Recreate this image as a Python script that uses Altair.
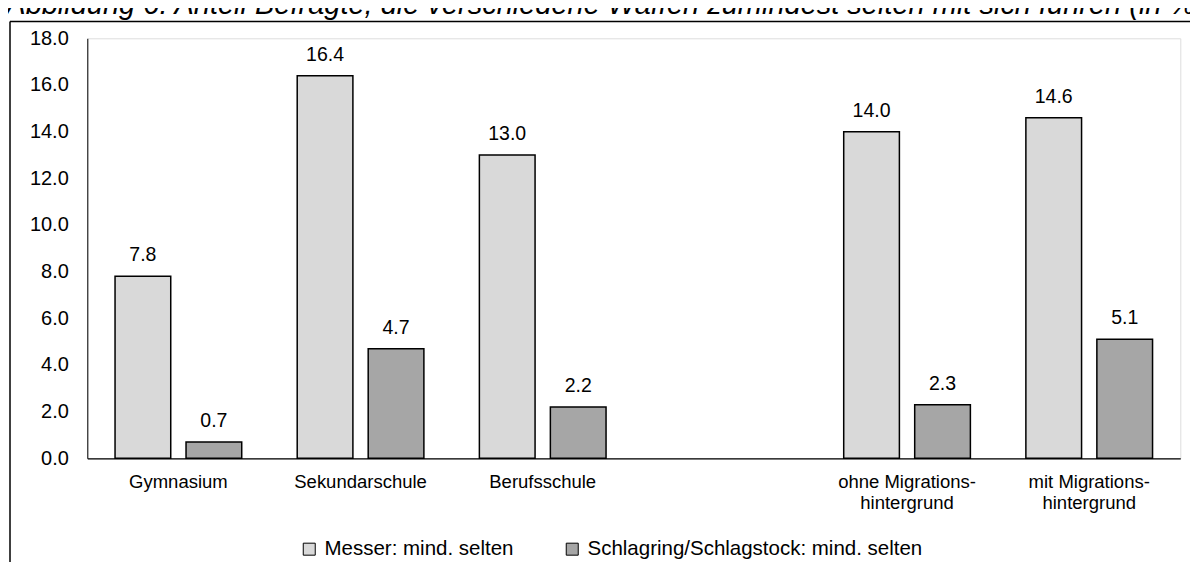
import altair as alt
import pandas as pd

title_text = "Abbildung 6: Anteil Befragte, die verschiedene Waffen zumindest selten mit sich führen (in %)"
categories = ["Gymnasium", "Sekundarschule", "Berufsschule", "",
              "ohne Migrations-\nhintergrund", "mit Migrations-\nhintergrund"]
groups = ["Gymnasium", "Sekundarschule", "Berufsschule",
          "ohne Migrations-\nhintergrund", "mit Migrations-\nhintergrund"]
series = ["Messer: mind. selten", "Schlagring/Schlagstock: mind. selten"]
messer = [7.8, 16.4, 13.0, 14.0, 14.6]
schlag = [0.7, 4.7, 2.2, 2.3, 5.1]
y_ticks = [0, 2, 4, 6, 8, 10, 12, 14, 16, 18]
colors = ["#d9d9d9", "#a6a6a6"]

rows = []
for g, m, s in zip(groups, messer, schlag):
    rows.append({"cat": g, "series": series[0], "value": m})
    rows.append({"cat": g, "series": series[1], "value": s})
df = pd.DataFrame(rows)

FONT = "Liberation Sans"
W, H = 1093, 420

x_enc = alt.X(
    "cat:N",
    scale=alt.Scale(domain=categories, paddingInner=0.3046, paddingOuter=0.1523),
    axis=alt.Axis(title=None, labelAngle=0, labelExpr="split(datum.label, '\\n')",
                  ticks=False, tickSize=0, labelPadding=14, labelFontSize=18.5,
                  labelColor="black", domainColor="black", domainWidth=1.3,
                  labelLineHeight=21, labelFont=FONT, labelLimit=0),
)
xo_enc = alt.XOffset("series:N",
                     scale=alt.Scale(domain=series, paddingInner=0.2155, paddingOuter=0))
y_enc = alt.Y(
    "value:Q",
    scale=alt.Scale(domain=[0, 18], nice=False, zero=True),
    axis=alt.Axis(title=None, values=y_ticks, format=".1f", grid=False, ticks=False,
                  tickSize=0, labelPadding=19, labelFontSize=20, labelColor="black",
                  domainColor="black", domainWidth=1, labelFont=FONT),
)

base = alt.Chart(df)

bars = base.mark_bar(stroke="black", strokeWidth=1.5).encode(
    x=x_enc,
    xOffset=xo_enc,
    y=y_enc,
    color=alt.Color(
        "series:N",
        scale=alt.Scale(domain=series, range=colors),
        legend=alt.Legend(title=None, orient="none", direction="horizontal",
                          legendX=211.7, legendY=500.5, symbolType="square",
                          symbolSize=144, symbolStrokeColor="black", symbolStrokeWidth=1,
                          labelFontSize=20.5, labelColor="black", labelFont=FONT,
                          labelLimit=0, columnPadding=48, labelOffset=5, padding=0),
    ),
)

labels = base.mark_text(baseline="alphabetic", dy=-15, fontSize=19.5, color="black",
                        font=FONT).encode(
    x=x_enc,
    xOffset=xo_enc,
    y=y_enc,
    text=alt.Text("value:Q", format=".1f"),
)

title_mark = alt.Chart(pd.DataFrame({"t": [title_text]})).mark_text(
    align="left", baseline="alphabetic", fontSize=29, fontStyle="italic",
    color="black", font=FONT
).encode(x=alt.value(-81), y=alt.value(-24), text="t:N")

frame = pd.DataFrame({"d": [0]})
left_edge = alt.Chart(frame).mark_rule(color="black", strokeWidth=1.5).encode(
    x=alt.value(-77.3), y=alt.value(-16.8), y2=alt.value(H + 140))
top_edge = alt.Chart(frame).mark_rule(color="black", strokeWidth=1.5).encode(
    x=alt.value(-77.3), x2=alt.value(W + 60), y=alt.value(-16.8))

chart = alt.layer(bars, labels, title_mark, left_edge, top_edge).properties(
    width=W, height=H,
    autosize=alt.AutoSizeParams(type="none"),
    padding={"left": 79.3, "top": 30.3, "right": 10, "bottom": 104},
).configure_view(stroke=None).configure(font=FONT)

chart.save("out.html", embed_options={"renderer": "svg", "actions": False})
